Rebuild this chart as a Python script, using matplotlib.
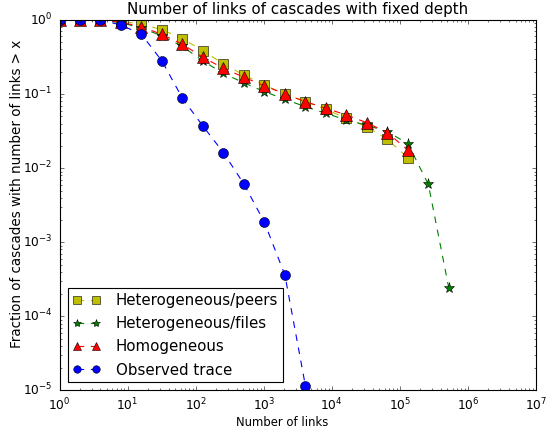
import matplotlib
matplotlib.use("Agg")
import matplotlib.pyplot as plt

plt.style.use('classic')
plt.rcParams['mathtext.fontset'] = 'dejavusans'

links = [2 ** i for i in range(20)]

peers = [1.0, 1.0, 1.0, 0.96, 0.88, 0.74, 0.56, 0.385, 0.255, 0.181, 0.133,
         0.0994, 0.0789, 0.0624, 0.0471, 0.0363, 0.0245, 0.01386]
files = [1.0, 1.0, 1.0, 0.92, 0.78, 0.61, 0.44, 0.28, 0.19, 0.142, 0.108,
         0.085, 0.0676, 0.055, 0.0447, 0.038, 0.0311, 0.0215, 0.00605, 0.000241]
homog = [1.0, 1.0, 1.0, 0.93, 0.81, 0.64, 0.47, 0.314, 0.223, 0.169, 0.129,
         0.101, 0.079, 0.0645, 0.0522, 0.0411, 0.0302, 0.0176]
observed = [1.0, 1.0, 1.0, 0.856, 0.64, 0.28, 0.0877, 0.037, 0.0162, 0.00612,
            0.00186, 0.000361, 0.0000116]

fig = plt.figure(figsize=(6.9, 5.4), dpi=80)
ax = fig.add_axes([0.1078, 0.0961, 0.8632, 0.8576])

ax.plot(links[:len(peers)], peers, 's--', color='y', markersize=9, label='Heterogeneous/peers')
ax.plot(links[:len(files)], files, '*--', color='g', markersize=10, label='Heterogeneous/files')
ax.plot(links[:len(homog)], homog, '^--', color='r', markersize=10, label='Homogeneous')
ax.plot(links[:len(observed)], observed, 'o--', color='b', markersize=9, label='Observed trace')

ax.set_xscale('log')
ax.set_yscale('log')
ax.set_xlim(1, 1e7)
ax.set_ylim(1e-5, 1)
ax.set_title('Number of links of cascades with fixed depth', fontsize=13.6)
ax.set_xlabel('Number of links', fontsize=10.5)
ax.set_ylabel('Fraction of cascades with number of links > x', fontsize=12.2)
ax.xaxis.set_label_coords(0.467, -0.068)
ax.yaxis.set_label_coords(-0.074, 0.532)
ax.tick_params(labelsize=11, pad=6)
ax.legend(loc='lower left', numpoints=2, fontsize=13.5, markerscale=0.75,
          labelspacing=0.55, handlelength=1.9, handletextpad=1.0,
          borderpad=0.3, borderaxespad=0.55)

fig.savefig('out.png', dpi=80)
